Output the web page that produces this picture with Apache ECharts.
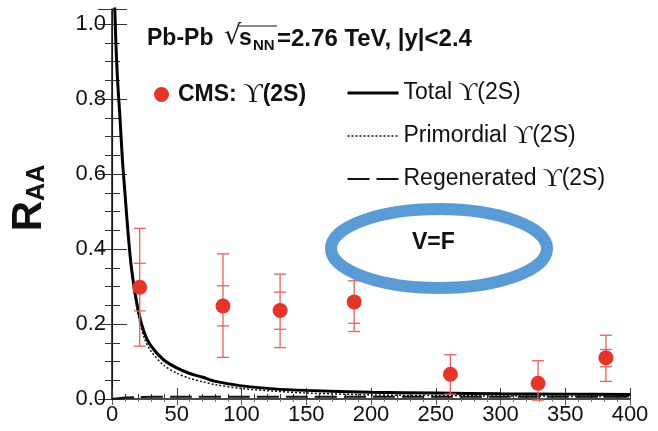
<!DOCTYPE html>
<html>
<head>
<meta charset="utf-8">
<script src="https://cdn.jsdelivr.net/npm/echarts@6/dist/echarts.min.js"></script>
<style>
html, body { margin: 0; padding: 0; background: #fff; }
#chart { width: 658px; height: 431px; }
</style>
</head>
<body>
<div id="chart"></div>
<script>
// model curves (Npart -> R_AA)
var nPart = [2, 3, 4, 5, 6, 8, 10, 12, 15, 20, 25, 30, 40, 50, 60, 70, 80, 100, 125, 150, 200, 250, 300, 350, 400]
var totalRaa = [1.06, 0.95, 0.87, 0.81, 0.76, 0.64, 0.55, 0.46, 0.35, 0.24, 0.176, 0.142, 0.104, 0.083, 0.068, 0.058, 0.047, 0.035, 0.027, 0.023, 0.018, 0.016, 0.014, 0.013, 0.012]
var primRaa = [1.06, 0.945, 0.865, 0.805, 0.755, 0.635, 0.545, 0.455, 0.342, 0.228, 0.162, 0.128, 0.09, 0.069, 0.055, 0.046, 0.038, 0.028, 0.021, 0.016, 0.011, 0.009, 0.008, 0.007, 0.006]
var regenX = [0, 5, 10, 20, 30, 50, 100, 150, 200, 250, 300, 350, 400]
var regenRaa = [0, 0.002, 0.004, 0.005, 0.006, 0.006, 0.006, 0.006, 0.006, 0.006, 0.006, 0.006, 0.006]

// CMS data
var cmsX = [21.4, 85.7, 129.8, 187, 261.3, 329, 381.4]
var cmsRaa = [0.298, 0.248, 0.236, 0.259, 0.066, 0.042, 0.11]
var errLow = [0.141, 0.111, 0.137, 0.18, 0.013, -0.003, 0.047]
var errHigh = [0.455, 0.387, 0.333, 0.34, 0.118, 0.102, 0.17]
var sysLow = [0.235, 0.195, 0.186, 0.202, null, null, 0.086]
var sysHigh = [0.362, 0.302, 0.285, 0.315, null, null, 0.132]

var legendText = {
  CMS: '{b|CMS: }{u|ϒ}{b|(2S)}',
  Total: '{n|Total }{u|ϒ}{n|(2S)}',
  Primordial: '{n|Primordial }{u|ϒ}{n|(2S)}',
  Regenerated: '{n|Regenerated }{u|ϒ}{n|(2S)}'
}

var sans = 'Liberation Sans, Arial, sans-serif'
var serif = 'Liberation Serif, DejaVu Serif, serif'
var red = '#e5352b'
var errRed = '#e8605a'

function pairs(xs, ys) {
  return xs.map(function (x, i) { return [x, ys[i]] })
}

var errData = cmsX.map(function (x, i) {
  return [x, errLow[i], errHigh[i],
    sysLow[i] == null ? '-' : sysLow[i],
    sysHigh[i] == null ? '-' : sysHigh[i]]
})

var myChart = echarts.init(document.getElementById('chart'))

var option = {
  backgroundColor: '#fff',
  animation: false,
  grid: { left: 107, right: 28, top: 9, bottom: 32 },
  legend: [
    {
      data: ['CMS'],
      left: 149,
      top: 76,
      icon: 'circle',
      itemWidth: 15,
      itemHeight: 15,
      formatter: function (name) { return legendText[name] },
      textStyle: {
        padding: [0, 0, 0, 4],
        rich: {
          b: { fontFamily: sans, fontSize: 23, fontWeight: 'bold', color: '#111', lineHeight: 24 },
          u: { fontFamily: serif, fontSize: 27, color: '#111', lineHeight: 24 }
        }
      }
    },
    {
      data: ['Total', 'Primordial', 'Regenerated'],
      orient: 'vertical',
      left: 341,
      top: 75,
      itemWidth: 51,
      itemHeight: 14,
      itemGap: 17,
      itemStyle: { opacity: 0 },
      lineStyle: { width: 'inherit' },
      formatter: function (name) { return legendText[name] },
      textStyle: {
        padding: [0, 0, 0, 0],
        rich: {
          n: { fontFamily: sans, fontSize: 23, color: '#111', lineHeight: 24 },
          u: { fontFamily: serif, fontSize: 26, color: '#111', lineHeight: 24 }
        }
      }
    }
  ],
  xAxis: [
    {
      type: 'value',
      min: 0,
      max: 400,
      interval: 50,
      axisLine: { show: true, lineStyle: { color: '#111', width: 1.5 } },
      axisTick: { show: true, inside: true, length: 11, lineStyle: { color: '#333' } },
      minorTick: { show: true, splitNumber: 5, length: 5, lineStyle: { color: '#333' } },
      splitLine: { show: false },
      axisLabel: { fontFamily: sans, fontSize: 22, color: '#111', margin: 5 }
    },
    {
      type: 'value',
      position: 'top',
      min: 0,
      max: 400,
      interval: 50,
      axisLine: { show: false },
      axisTick: { show: true, inside: true, length: 6, lineStyle: { color: '#555' } },
      minorTick: { show: true, splitNumber: 5, length: 3, lineStyle: { color: '#777' } },
      splitLine: { show: false },
      axisLabel: { show: false }
    }
  ],
  yAxis: [
    {
      type: 'value',
      min: 0,
      max: 1.04,
      interval: 0.2,
      name: '{r|R}{s|AA}',
      nameLocation: 'middle',
      nameGap: 62,
      nameTextStyle: {
        padding: [0, 0, 0, 12],
        rich: {
          r: { fontFamily: sans, fontSize: 42, fontWeight: 'bold', color: '#111', lineHeight: 42 },
          s: { fontFamily: sans, fontSize: 25, fontWeight: 'bold', color: '#111', lineHeight: 16, verticalAlign: 'bottom' }
        }
      },
      axisLine: { show: true, lineStyle: { color: '#333', width: 1.2 } },
      axisTick: { show: true, inside: true, length: 15, lineStyle: { color: '#333' } },
      minorTick: { show: true, splitNumber: 4, length: 8, lineStyle: { color: '#333' } },
      splitLine: { show: false },
      axisLabel: {
        fontFamily: sans,
        fontSize: 22,
        color: '#111',
        margin: 6,
        showMaxLabel: false,
        formatter: function (v) { return v.toFixed(1) }
      }
    },
    {
      type: 'value',
      position: 'right',
      min: 0,
      max: 1.04,
      interval: 0.2,
      axisLine: { show: true, lineStyle: { color: '#111', width: 1.5 } },
      axisTick: { show: true, inside: true, length: 14, lineStyle: { color: '#333' } },
      minorTick: { show: true, splitNumber: 4, length: 7, lineStyle: { color: '#333' } },
      splitLine: { show: false },
      axisLabel: { show: false }
    }
  ],
  series: [
    {
      name: 'Regenerated',
      type: 'line',
      data: pairs(regenX, regenRaa),
      symbol: 'none',
      smooth: 0.3,
      lineStyle: { color: '#111', width: 2, type: [22, 7] },
      itemStyle: { color: '#111' },
      z: 3
    },
    {
      name: 'Primordial',
      type: 'line',
      data: pairs(nPart, primRaa),
      symbol: 'none',
      smooth: 0.3,
      lineStyle: { color: '#111', width: 1.5, type: [2, 2] },
      itemStyle: { color: '#111' },
      z: 3
    },
    {
      name: 'Total',
      type: 'line',
      data: pairs(nPart, totalRaa),
      symbol: 'none',
      smooth: 0.3,
      lineStyle: { color: '#000', width: 3 },
      itemStyle: { color: '#000' },
      z: 4
    },
    {
      name: 'CMS err',
      type: 'custom',
      data: errData,
      encode: { x: 0, y: [1, 2] },
      z: 5,
      renderItem: function (params, api) {
        var x = api.value(0)
        var lo = api.coord([x, api.value(1)])
        var hi = api.coord([x, api.value(2)])
        var style = { stroke: errRed, lineWidth: 1.3 }
        var kids = [{ type: 'line', shape: { x1: lo[0], y1: lo[1], x2: hi[0], y2: hi[1] }, style: style }]
        var caps = [api.value(1), api.value(2), api.value(3), api.value(4)]
        caps.forEach(function (v) {
          if (isNaN(v)) return
          var p = api.coord([x, v])
          kids.push({ type: 'line', shape: { x1: p[0] - 6, y1: p[1], x2: p[0] + 6, y2: p[1] }, style: style })
        })
        return { type: 'group', children: kids }
      }
    },
    {
      name: 'CMS',
      type: 'scatter',
      data: pairs(cmsX, cmsRaa),
      symbol: 'circle',
      symbolSize: 15,
      itemStyle: { color: red, opacity: 1 },
      z: 6
    }
  ],
  graphic: [
    { type: 'text', left: 147, top: 27, style: { text: 'Pb-Pb', fontFamily: sans, fontSize: 23, fontWeight: 'bold', fill: '#111' } },
    { type: 'text', left: 224, top: 23, style: { text: '√', fontFamily: 'DejaVu Sans', fontSize: 27, fill: '#111' } },
    { type: 'line', shape: { x1: 238, y1: 26, x2: 277, y2: 26 }, style: { stroke: '#111', lineWidth: 1 } },
    { type: 'text', left: 239, top: 27, style: { text: 's', fontFamily: sans, fontSize: 23, fontWeight: 'bold', fill: '#111' } },
    { type: 'text', left: 253, top: 38, style: { text: 'NN', fontFamily: sans, fontSize: 15, fontWeight: 'bold', fill: '#111' } },
    { type: 'text', left: 277, top: 27, style: { text: '=2.76 TeV, |y|<2.4', fontFamily: sans, fontSize: 24, fontWeight: 'bold', fill: '#111' } },
    {
      type: 'ellipse',
      shape: { cx: 439, cy: 248.5, rx: 108, ry: 39.5 },
      style: { fill: 'none', stroke: '#5b9bd5', lineWidth: 12 },
      z: 100
    },
    { type: 'text', left: 412, top: 231, style: { text: 'V=F', fontFamily: sans, fontSize: 23, fontWeight: 'bold', fill: '#111' }, z: 100 }
  ]
}

myChart.setOption(option)
</script>
</body>
</html>
